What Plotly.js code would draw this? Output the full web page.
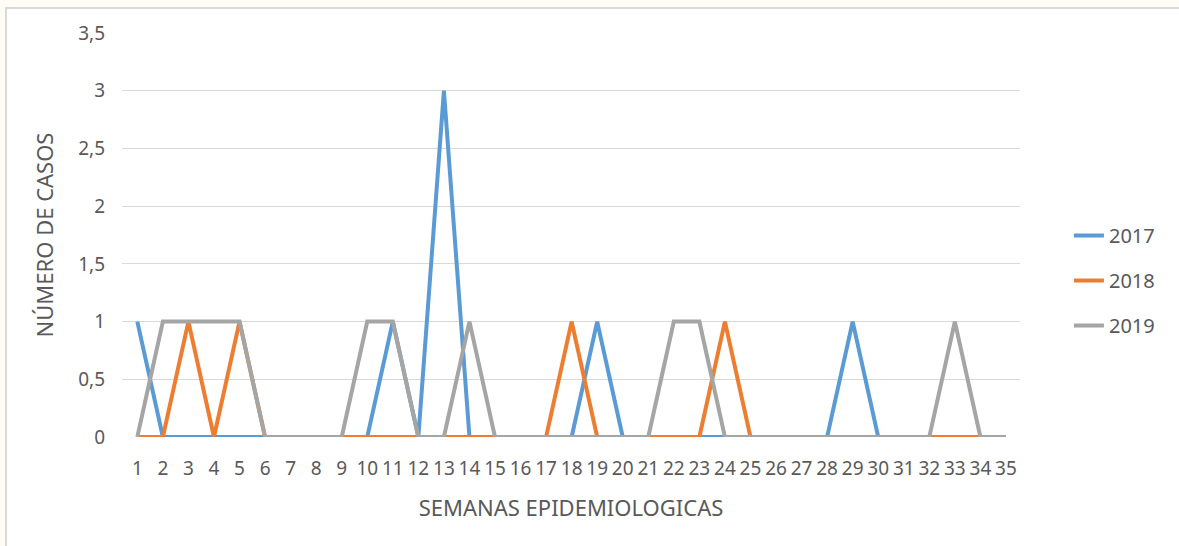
<!DOCTYPE html>
<html>
<head>
<meta charset="utf-8">
<script src="https://cdn.plot.ly/plotly-3.0.1.min.js"></script>
<style>
html,body{margin:0;padding:0;background:#fffcf7;}
#chart{width:1179px;height:546px;}
</style>
</head>
<body>
<div id="chart"></div>
<script>
const weeks = [1,2,3,4,5,6,7,8,9,10,11,12,13,14,15,16,17,18,19,20,21,22,23,24,25,26,27,28,29,30,31,32,33,34,35];
const weekLabels = weeks.map(String);
const cases2017 = [1,0,0,0,0,0,0,0,0,0,1,0,3,0,0,0,0,0,1,0,0,0,0,0,0,0,0,0,1,0,0,0,0,0,0];
const cases2018 = [0,0,1,0,1,0,0,0,0,0,0,0,0,0,0,0,0,1,0,0,0,0,0,1,0,0,0,0,0,0,0,0,0,0,0];
const cases2019 = [0,1,1,1,1,0,0,0,0,1,1,0,0,1,0,0,0,0,0,0,0,1,1,0,0,0,0,0,0,0,0,0,1,0,0];
const yTickVals = [0,0.5,1,1.5,2,2.5,3,3.5];
const yTickText = ['0','0,5','1','1,5','2','2,5','3','3,5'];
const seriesNames = ['2017','2018','2019'];
const seriesColors = ['#5B9BD5','#ED7D31','#A5A5A5'];
const seriesData = [cases2017, cases2018, cases2019];

const FONT = 'Noto Sans, Open Sans, sans-serif';
const traces = seriesData.map((d,i)=>({
  x: weeks, y: d, type:'scatter', mode:'lines', name: seriesNames[i],
  legendgroup: 'g'+i,
  line:{color: seriesColors[i], width:4}
}));

const layout = {
  width:1179, height:546,
  margin:{l:122, r:159, t:33, b:109},
  paper_bgcolor:'#fffcf7',
  plot_bgcolor:'rgba(0,0,0,0)',
  font:{family:FONT, color:'#595959', size:18},
  showlegend:true,
  legend:{x:1.0545, xanchor:'left', y:0.547, yanchor:'top', font:{size:20, color:'#595959'}, tracegroupgap:16, bgcolor:'rgba(0,0,0,0)'},
  xaxis:{
    range:[0.4,35.55], tickvals:weeks, ticktext:weekLabels, tickangle:0,
    showgrid:false, zeroline:false, showline:false, ticks:'',
    ticklabelstandoff:18,
    tickfont:{size:19, color:'#595959'},
    title:{text:'SEMANAS EPIDEMIOLOGICAS', font:{size:22, color:'#595959'}, standoff:20}
  },
  yaxis:{
    range:[0,3.5], tickvals:yTickVals, ticktext:yTickText,
    showgrid:true, gridcolor:'#d9d9d9', gridwidth:1, zeroline:false, showline:false, ticks:'',
    ticklabelstandoff:16,
    tickfont:{size:19, color:'#595959'},
    title:{text:'NÚMERO DE CASOS', font:{size:22, color:'#595959'}, standoff:18}
  },
  shapes:[{
    type:'rect', xref:'paper', yref:'paper', layer:'below',
    x0:(6-122)/898, x1:(1190-122)/898, y0:(437-560)/404, y1:(437-8)/404,
    fillcolor:'#ffffff', line:{color:'#d9d9d9', width:2}
  }]
};
Plotly.newPlot('chart', traces, layout, {displayModeBar:false, staticPlot:true});
</script>
</body>
</html>
